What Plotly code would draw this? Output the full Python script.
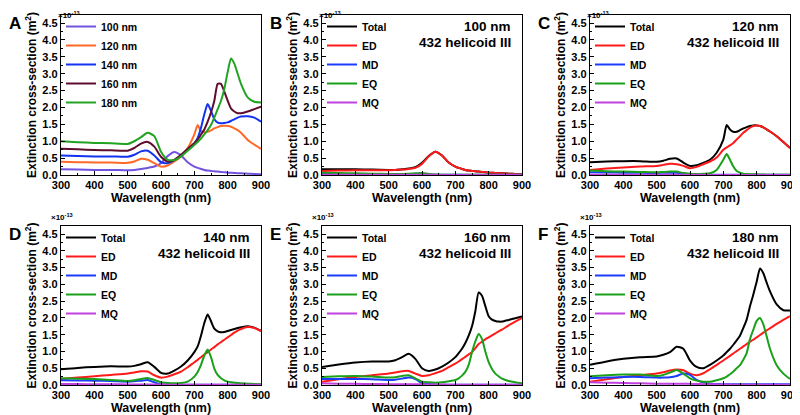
import plotly.graph_objects as go

# ---------------- data (extinction cross-section, units of 1e-13 m^2) ----------------
WL = [300, 350, 400, 450, 500, 520, 540, 560, 580, 600, 620, 640, 660, 680, 700, 710,
      720, 730, 740, 750, 760, 770, 780, 790, 800, 810, 820, 830, 840, 860, 880, 900]

SIZE_LABELS = ["100 nm", "120 nm", "140 nm", "160 nm", "180 nm"]
COMP_LABELS = ["Total", "ED", "MD", "EQ", "MQ"]
PANEL_LETTERS = ["A", "B", "C", "D", "E", "F"]
PANEL_SIZES = ["100 nm", "120 nm", "140 nm", "160 nm", "180 nm"]
STRUCTURE = "432 helicoid III"

X_TICKS = [300, 400, 500, 600, 700, 800, 900]
Y_TICKS = [0.0, 0.5, 1.0, 1.5, 2.0, 2.5, 3.0, 3.5, 4.0, 4.5]

# Panel A: total extinction for each size
A_100 = [0.17, 0.16, 0.15, 0.15, 0.14, 0.15, 0.18, 0.21, 0.25, 0.35, 0.56, 0.68, 0.58, 0.38, 0.25, 0.21,
         0.18, 0.15, 0.13, 0.12, 0.11, 0.10, 0.09, 0.08, 0.07, 0.065, 0.06, 0.05, 0.05, 0.04, 0.03, 0.02]
A_120 = [0.39, 0.38, 0.37, 0.37, 0.36, 0.40, 0.48, 0.45, 0.35, 0.25, 0.28, 0.40, 0.55, 0.79, 1.20, 1.48,
         1.30, 1.27, 1.28, 1.32, 1.38, 1.42, 1.45, 1.46, 1.45, 1.43, 1.38, 1.33, 1.25, 1.04, 0.90, 0.77]
A_140 = [0.58, 0.56, 0.55, 0.55, 0.54, 0.60, 0.70, 0.72, 0.58, 0.38, 0.35, 0.44, 0.58, 0.75, 0.94, 1.10,
         1.40, 1.80, 2.10, 1.90, 1.65, 1.55, 1.53, 1.54, 1.56, 1.60, 1.65, 1.70, 1.73, 1.74, 1.70, 1.58]
A_160 = [0.78, 0.76, 0.74, 0.73, 0.72, 0.80, 0.93, 0.98, 0.84, 0.54, 0.40, 0.45, 0.60, 0.78, 0.94, 1.05,
         1.20, 1.35, 1.58, 1.85, 2.20, 2.70, 2.70, 2.47, 2.20, 1.97, 1.88, 1.83, 1.83, 1.88, 1.95, 2.02]
A_180 = [1.00, 0.97, 0.95, 0.94, 0.92, 1.00, 1.12, 1.25, 1.15, 0.69, 0.45, 0.44, 0.55, 0.72, 0.89, 0.98,
         1.08, 1.20, 1.33, 1.48, 1.70, 1.95, 2.20, 2.55, 3.05, 3.45, 3.30, 3.00, 2.70, 2.30, 2.17, 2.15]

# Panel B: 100 nm multipole decomposition
B_TOTAL = [0.17, 0.17, 0.17, 0.16, 0.15, 0.15, 0.17, 0.19, 0.23, 0.36, 0.56, 0.69, 0.58, 0.37, 0.25, 0.21,
           0.18, 0.15, 0.13, 0.12, 0.11, 0.10, 0.09, 0.08, 0.07, 0.065, 0.06, 0.05, 0.05, 0.04, 0.03, 0.02]
B_ED = [0.12, 0.13, 0.14, 0.14, 0.14, 0.15, 0.16, 0.18, 0.21, 0.33, 0.55, 0.69, 0.58, 0.37, 0.25, 0.21,
        0.18, 0.15, 0.13, 0.12, 0.11, 0.10, 0.09, 0.08, 0.07, 0.065, 0.06, 0.05, 0.05, 0.04, 0.03, 0.02]
B_MD = [0.04, 0.035, 0.03, 0.03, 0.03, 0.03, 0.03, 0.025, 0.02, 0.015, 0.01, 0.01, 0.005, 0.005, 0.005, 0.005,
        0.005, 0.005, 0.005, 0.005, 0.005, 0.005, 0.005, 0.005, 0.005, 0.005, 0.005, 0.005, 0.005, 0.005, 0.005, 0.005]
B_EQ = [0.07, 0.06, 0.05, 0.04, 0.03, 0.03, 0.03, 0.04, 0.05, 0.06, 0.03, 0.015, 0.01, 0.005, 0.005, 0.005,
        0.005, 0.005, 0.005, 0.005, 0.005, 0.005, 0.005, 0.005, 0.005, 0.005, 0.005, 0.005, 0.005, 0.005, 0.005, 0.005]
B_MQ = [0.01, 0.01, 0.008, 0.008, 0.006, 0.006, 0.006, 0.006, 0.005, 0.005, 0.004, 0.004, 0.003, 0.003, 0.003, 0.003,
        0.003, 0.003, 0.003, 0.003, 0.003, 0.003, 0.003, 0.003, 0.003, 0.003, 0.003, 0.003, 0.003, 0.003, 0.003, 0.003]

# Panel C: 120 nm
C_TOTAL = [0.38, 0.40, 0.41, 0.41, 0.39, 0.42, 0.48, 0.49, 0.37, 0.27, 0.29, 0.36, 0.45, 0.66, 1.05, 1.48,
           1.35, 1.28, 1.28, 1.33, 1.38, 1.42, 1.45, 1.47, 1.47, 1.45, 1.41, 1.35, 1.29, 1.15, 0.98, 0.80]
C_ED = [0.15, 0.19, 0.22, 0.25, 0.27, 0.30, 0.33, 0.32, 0.27, 0.20, 0.24, 0.32, 0.40, 0.52, 0.75, 0.82,
        0.88, 0.95, 1.05, 1.15, 1.25, 1.33, 1.40, 1.45, 1.47, 1.45, 1.41, 1.35, 1.29, 1.15, 0.98, 0.80]
C_MD = [0.08, 0.075, 0.07, 0.065, 0.06, 0.065, 0.07, 0.065, 0.04, 0.02, 0.015, 0.01, 0.005, 0.005, 0.005, 0.005,
        0.005, 0.005, 0.005, 0.005, 0.005, 0.005, 0.005, 0.005, 0.005, 0.005, 0.005, 0.005, 0.005, 0.005, 0.005, 0.005]
C_EQ = [0.13, 0.11, 0.10, 0.09, 0.08, 0.09, 0.10, 0.10, 0.06, 0.04, 0.03, 0.035, 0.05, 0.15, 0.45, 0.62,
        0.45, 0.25, 0.12, 0.07, 0.04, 0.03, 0.025, 0.02, 0.02, 0.015, 0.015, 0.01, 0.01, 0.01, 0.01, 0.01]
C_MQ = [0.01, 0.01, 0.008, 0.008, 0.006, 0.006, 0.006, 0.006, 0.005, 0.005, 0.004, 0.004, 0.003, 0.003, 0.003, 0.003,
        0.003, 0.003, 0.003, 0.003, 0.003, 0.003, 0.003, 0.003, 0.003, 0.003, 0.003, 0.003, 0.003, 0.003, 0.003, 0.003]

# Panel D: 140 nm
D_TOTAL = [0.47, 0.51, 0.54, 0.56, 0.55, 0.57, 0.62, 0.68, 0.54, 0.36, 0.34, 0.43, 0.55, 0.73, 0.98, 1.15,
           1.47, 1.85, 2.10, 1.90, 1.68, 1.60, 1.57, 1.58, 1.61, 1.64, 1.67, 1.70, 1.72, 1.75, 1.71, 1.61]
D_ED = [0.18, 0.22, 0.26, 0.30, 0.34, 0.37, 0.41, 0.40, 0.29, 0.22, 0.25, 0.32, 0.40, 0.53, 0.68, 0.75,
        0.83, 0.91, 0.98, 1.06, 1.13, 1.21, 1.28, 1.35, 1.42, 1.49, 1.56, 1.62, 1.67, 1.73, 1.70, 1.61]
D_MD = [0.14, 0.135, 0.13, 0.12, 0.10, 0.11, 0.13, 0.15, 0.08, 0.02, 0.015, 0.01, 0.01, 0.01, 0.01, 0.01,
        0.01, 0.01, 0.01, 0.01, 0.01, 0.01, 0.01, 0.01, 0.01, 0.01, 0.01, 0.01, 0.01, 0.01, 0.01, 0.01]
D_EQ = [0.20, 0.19, 0.18, 0.15, 0.12, 0.14, 0.18, 0.21, 0.15, 0.08, 0.06, 0.05, 0.06, 0.10, 0.25, 0.39,
        0.60, 0.88, 1.06, 0.83, 0.49, 0.30, 0.20, 0.14, 0.10, 0.08, 0.07, 0.06, 0.05, 0.04, 0.03, 0.02]
D_MQ = [0.03, 0.027, 0.024, 0.021, 0.018, 0.017, 0.016, 0.015, 0.013, 0.012, 0.011, 0.01, 0.01, 0.01, 0.01, 0.01,
        0.01, 0.01, 0.01, 0.01, 0.01, 0.01, 0.01, 0.01, 0.01, 0.01, 0.01, 0.01, 0.01, 0.01, 0.01, 0.01]

# Panel E: 160 nm
E_TOTAL = [0.54, 0.61, 0.67, 0.70, 0.70, 0.74, 0.83, 0.93, 0.78, 0.50, 0.42, 0.46, 0.55, 0.67, 0.83, 0.95,
           1.08, 1.25, 1.47, 1.75, 2.20, 2.76, 2.66, 2.35, 2.05, 1.95, 1.91, 1.89, 1.89, 1.94, 1.99, 2.04]
E_ED = [0.10, 0.17, 0.24, 0.29, 0.34, 0.37, 0.41, 0.42, 0.34, 0.27, 0.29, 0.35, 0.42, 0.53, 0.64, 0.70,
        0.77, 0.84, 0.91, 0.98, 1.10, 1.22, 1.29, 1.36, 1.42, 1.48, 1.54, 1.60, 1.65, 1.78, 1.89, 2.00]
E_MD = [0.18, 0.18, 0.18, 0.17, 0.15, 0.16, 0.19, 0.22, 0.18, 0.05, 0.03, 0.02, 0.01, 0.01, 0.01, 0.01,
        0.01, 0.01, 0.01, 0.01, 0.01, 0.01, 0.01, 0.01, 0.01, 0.01, 0.01, 0.01, 0.01, 0.01, 0.01, 0.01]
E_EQ = [0.24, 0.26, 0.27, 0.25, 0.22, 0.23, 0.27, 0.29, 0.20, 0.10, 0.08, 0.07, 0.08, 0.11, 0.15, 0.20,
        0.28, 0.39, 0.60, 0.98, 1.30, 1.52, 1.37, 1.00, 0.68, 0.48, 0.34, 0.26, 0.19, 0.12, 0.08, 0.05]
E_MQ = [0.05, 0.04, 0.035, 0.03, 0.025, 0.024, 0.023, 0.022, 0.02, 0.018, 0.015, 0.013, 0.012, 0.011, 0.01, 0.01,
        0.01, 0.01, 0.01, 0.01, 0.01, 0.01, 0.01, 0.01, 0.01, 0.01, 0.01, 0.01, 0.01, 0.01, 0.01, 0.01]

# Panel F: 180 nm
F_TOTAL = [0.60, 0.70, 0.78, 0.83, 0.85, 0.90, 0.98, 1.14, 1.08, 0.73, 0.54, 0.50, 0.60, 0.73, 0.88, 0.98,
           1.08, 1.20, 1.33, 1.47, 1.70, 1.95, 2.35, 2.70, 3.08, 3.47, 3.33, 3.05, 2.79, 2.40, 2.23, 2.22]
F_ED = [0.10, 0.17, 0.24, 0.29, 0.34, 0.38, 0.43, 0.46, 0.44, 0.34, 0.29, 0.35, 0.47, 0.60, 0.73, 0.80,
        0.87, 0.94, 1.01, 1.08, 1.15, 1.22, 1.29, 1.35, 1.42, 1.49, 1.56, 1.63, 1.69, 1.82, 1.94, 2.05]
F_MD = [0.20, 0.22, 0.24, 0.24, 0.22, 0.22, 0.23, 0.27, 0.34, 0.30, 0.15, 0.07, 0.04, 0.03, 0.02, 0.02,
        0.02, 0.02, 0.02, 0.02, 0.02, 0.02, 0.02, 0.02, 0.02, 0.02, 0.02, 0.02, 0.02, 0.02, 0.02, 0.02]
F_EQ = [0.26, 0.29, 0.31, 0.31, 0.27, 0.30, 0.37, 0.45, 0.34, 0.20, 0.13, 0.10, 0.10, 0.14, 0.20, 0.25,
        0.32, 0.40, 0.50, 0.59, 0.75, 0.95, 1.37, 1.65, 1.91, 2.00, 1.81, 1.45, 1.08, 0.59, 0.34, 0.18]
F_MQ = [0.08, 0.07, 0.06, 0.05, 0.04, 0.035, 0.035, 0.035, 0.035, 0.035, 0.03, 0.025, 0.02, 0.02, 0.015, 0.015,
        0.01, 0.01, 0.01, 0.01, 0.01, 0.01, 0.01, 0.01, 0.01, 0.01, 0.01, 0.01, 0.01, 0.01, 0.01, 0.01]

PANEL_DATA = [
    [A_100, A_120, A_140, A_160, A_180],
    [B_TOTAL, B_ED, B_MD, B_EQ, B_MQ],
    [C_TOTAL, C_ED, C_MD, C_EQ, C_MQ],
    [D_TOTAL, D_ED, D_MD, D_EQ, D_MQ],
    [E_TOTAL, E_ED, E_MD, E_EQ, E_MQ],
    [F_TOTAL, F_ED, F_MD, F_EQ, F_MQ],
]

# ---------------- styles ----------------
SIZE_COLORS = ["#7352E0", "#FF6A26", "#1233F0", "#5E0D2E", "#23A323"]
COMP_COLORS = ["#000000", "#FF1A1A", "#1A3CFF", "#1AA01A", "#C040E0"]

# the page body adds an 8px margin, so the figure is 792x407 and positions are
# given in screen pixels then shifted
OFF = 8
W, H = 800 - OFF, 415 - OFF
COLS_PX = [(61, 261), (322, 522), (590, 790)]
ROWS_PX = [(15, 175), (226, 385)]
FONT = "Liberation Sans, Arial, sans-serif"
NARROW = "Liberation Sans Narrow, Arial Narrow, Liberation Sans, sans-serif"


def px(sx):
    return (sx - OFF) / W


def py(sy):
    return 1 - (sy - OFF) / H


fig = go.Figure()

for p in range(6):
    r, c = divmod(p, 3)
    ax = "" if p == 0 else str(p + 1)
    legend_name = "legend" if p == 0 else "legend%d" % (p + 1)
    labels = SIZE_LABELS if p == 0 else COMP_LABELS
    colors = SIZE_COLORS if p == 0 else COMP_COLORS
    for k, (series, lab, col) in enumerate(zip(PANEL_DATA[p], labels, colors)):
        fig.add_trace(go.Scatter(
            x=WL, y=series, name=lab, mode="lines",
            line=dict(color=col, width=2, shape="spline", smoothing=0.6),
            xaxis="x" + ax, yaxis="y" + ax, legend=legend_name,
        ))

    x0, x1 = COLS_PX[c]
    y0, y1 = ROWS_PX[r]
    xdom = [px(x0), px(x1)]
    ydom = [py(y1), py(y0)]
    common = dict(showline=True, linecolor="black", linewidth=1.3, mirror=True,
                  ticks="inside", ticklen=4, tickwidth=1, tickcolor="black",
                  showgrid=False, zeroline=False, automargin=False,
                  tickfont=dict(size=11, family=FONT, color="black", weight="bold"))
    fig.layout["xaxis" + ax] = dict(
        common, domain=xdom, anchor="y" + ax, range=[300, 900], tickvals=X_TICKS,
        minor=dict(ticks="inside", ticklen=2, tickcolor="black", dtick=50),
        title=dict(text="Wavelength (nm)", standoff=2,
                   font=dict(size=12.5, family=FONT, color="black", weight="bold")))
    fig.layout["yaxis" + ax] = dict(
        common, domain=ydom, anchor="x" + ax, range=[0, 4.74], tickvals=Y_TICKS,
        tickformat=".1f",
        minor=dict(ticks="inside", ticklen=2, tickcolor="black", dtick=0.25),
        title=dict(text="Extinction cross-section (m<sup>2</sup>)", standoff=3,
                   font=dict(size=12, family=FONT, color="black", weight="bold")))

    # legend inside the panel
    fig.layout[legend_name] = dict(
        x=px(x0), y=py(y0 - 3), xanchor="left", yanchor="top",
        bgcolor="rgba(0,0,0,0)", borderwidth=0, tracegroupgap=0,
        font=dict(size=10.5, family=FONT, color="black", weight="bold"),
    )

    # panel letter
    fig.add_annotation(text="<b>%s</b>" % PANEL_LETTERS[p], xref="paper", yref="paper",
                       x=px(x0 - 54), y=py(y0 + 8), xanchor="left", yanchor="middle",
                       showarrow=False, font=dict(size=17, family=FONT, color="black"))
    # exponent label: bottom row sits above the frame; top row is kept inside the
    # drawable area, right of the "4.5" tick label
    if r == 1:
        ex_x, ex_y, ex_anchor = x0 - 12, y0 - 9, "middle"
    else:
        ex_x, ex_y, ex_anchor = x0 - 5, OFF, "top"
    fig.add_annotation(text="<b>×10<sup>-13</sup></b>", xref="paper", yref="paper",
                       x=px(ex_x), y=py(ex_y), xanchor="left", yanchor=ex_anchor,
                       showarrow=False, font=dict(size=8, family=FONT, color="black"))
    if p > 0:
        fig.add_annotation(text="<b>%s</b>" % PANEL_SIZES[p - 1], xref="paper", yref="paper",
                           x=px(x1 - 9), y=py(y0 + 11), xanchor="right", yanchor="middle",
                           showarrow=False, font=dict(size=13.5, family=NARROW, color="black"))
        fig.add_annotation(text="<b>%s</b>" % STRUCTURE, xref="paper", yref="paper",
                           x=px(x1 - 9), y=py(y0 + 27), xanchor="right", yanchor="middle",
                           showarrow=False, font=dict(size=13.5, family=NARROW, color="black"))

fig.update_layout(
    width=W, height=H, margin=dict(l=0, r=0, t=0, b=0),
    paper_bgcolor="white", plot_bgcolor="white",
    font=dict(family=FONT, color="black", size=11, weight="bold"),
    showlegend=True,
)

fig.write_html("out.html")
